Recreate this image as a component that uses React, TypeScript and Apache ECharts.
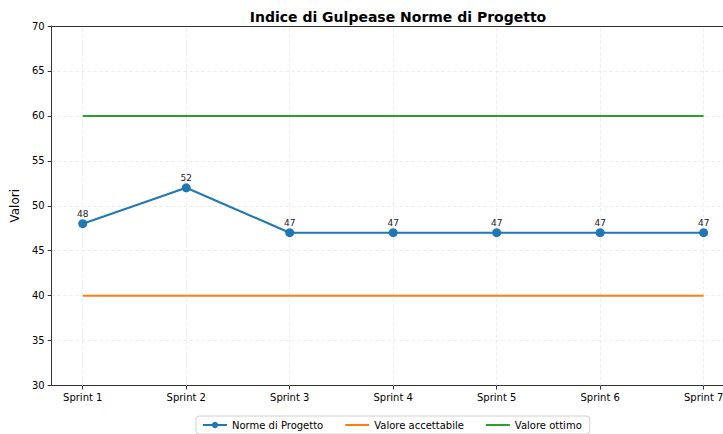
import React, { useEffect, useRef } from "react";
import * as echarts from "echarts";

const categories = ["Sprint 1", "Sprint 2", "Sprint 3", "Sprint 4", "Sprint 5", "Sprint 6", "Sprint 7"];
const normeValues = [48, 52, 47, 47, 47, 47, 47];
const acceptableValue = 40;
const optimalValue = 60;

const FONT = "DejaVu Sans";
const LINE_ICON = "path://M0,0 L24,0 L24,2 L0,2 Z";

export default function App() {
  const ref = useRef<HTMLDivElement>(null);
  useEffect(() => {
    if (!ref.current) return;
    const chart = echarts.init(ref.current, undefined, { renderer: "svg" });
    const idx = categories.map((_, i) => i);
    const option: any = {
      animation: false,
      textStyle: { fontFamily: FONT },
      title: {
        text: "Indice di Gulpease Norme di Progetto",
        left: 393,
        textAlign: "center",
        top: 5,
        textStyle: { fontFamily: FONT, fontSize: 14, fontWeight: "bold", color: "#000" },
      },
      grid: {
        left: 51.7,
        top: 26,
        width: 683,
        height: 359.5,
      },
      legend: {
        top: 416,
        left: 196,
        padding: [4, 8, 4, 6],
        borderColor: "#d0d0d0",
        borderWidth: 1,
        borderRadius: 3,
        itemWidth: 24,
        itemHeight: 8,
        itemGap: 22,
        textStyle: { fontFamily: FONT, fontSize: 10, color: "#000" },
        data: [
          { name: "Norme di Progetto" },
          { name: "Valore accettabile", icon: LINE_ICON },
          { name: "Valore ottimo", icon: LINE_ICON },
        ],
      },
      xAxis: [
        {
          type: "value",
          position: "bottom",
          min: -0.3,
          max: 6.3,
          axisLine: { show: true, onZero: false, lineStyle: { color: "#333", width: 1 } },
          axisTick: { show: true, customValues: idx, length: 4, lineStyle: { color: "#333" } },
          axisLabel: {
            customValues: idx,
            formatter: (v: number) => categories[Math.round(v)] ?? "",
            fontFamily: FONT,
            fontSize: 10,
            color: "#000",
            margin: 7,
          },
          splitLine: { show: false },
        },
        {
          type: "value",
          position: "top",
          min: -0.3,
          max: 6.3,
          axisLine: { show: true, onZero: false, lineStyle: { color: "#333", width: 1 } },
          axisTick: { show: false },
          axisLabel: { show: false },
          splitLine: { show: false },
        },
      ],
      yAxis: {
        type: "value",
        min: 30,
        max: 70,
        interval: 5,
        name: "Valori",
        nameLocation: "middle",
        nameGap: 27,
        nameTextStyle: { fontFamily: FONT, fontSize: 12, color: "#000" },
        axisLine: { show: true, onZero: false, lineStyle: { color: "#333", width: 1 } },
        axisTick: { show: true, length: 4, lineStyle: { color: "#333" } },
        axisLabel: {
          fontFamily: FONT,
          fontSize: 10,
          color: "#000",
          margin: 7,
        },
        splitLine: { show: true, lineStyle: { color: "#e6e6e6", type: [3, 3], width: 0.8 } },
      },
      series: [
        {
          name: "Norme di Progetto",
          type: "line",
          data: normeValues.map((v, i) => [i, v]),
          color: "#1f77b4",
          lineStyle: { width: 2, color: "#1f77b4" },
          symbol: "circle",
          symbolSize: 9,
          itemStyle: { color: "#1f77b4" },
          label: {
            show: true,
            position: "top",
            distance: 1,
            fontFamily: FONT,
            fontSize: 9,
            color: "#222",
          },
          z: 5,
          markLine: {
            silent: true,
            symbol: "none",
            label: { show: false },
            lineStyle: { color: "#e6e6e6", type: [3, 3], width: 0.8 },
            data: idx.map((i) => ({ xAxis: i })),
            z: 1,
          },
        },
        {
          name: "Valore accettabile",
          type: "line",
          data: idx.map((i) => [i, acceptableValue]),
          color: "#ff7f0e",
          lineStyle: { width: 2, color: "#ff7f0e" },
          symbol: "none",
          showSymbol: false,
          z: 3,
        },
        {
          name: "Valore ottimo",
          type: "line",
          data: idx.map((i) => [i, optimalValue]),
          color: "#2ca02c",
          lineStyle: { width: 2, color: "#2ca02c" },
          symbol: "none",
          showSymbol: false,
          z: 3,
        },
      ],
    };
    chart.setOption(option);
    return () => chart.dispose();
  }, []);
  return (
    <div style={{ position: "absolute", left: 0, top: 0, width: 723, height: 434, overflow: "hidden" }}>
      <div ref={ref} style={{ width: 745, height: 434 }} />
    </div>
  );
}
